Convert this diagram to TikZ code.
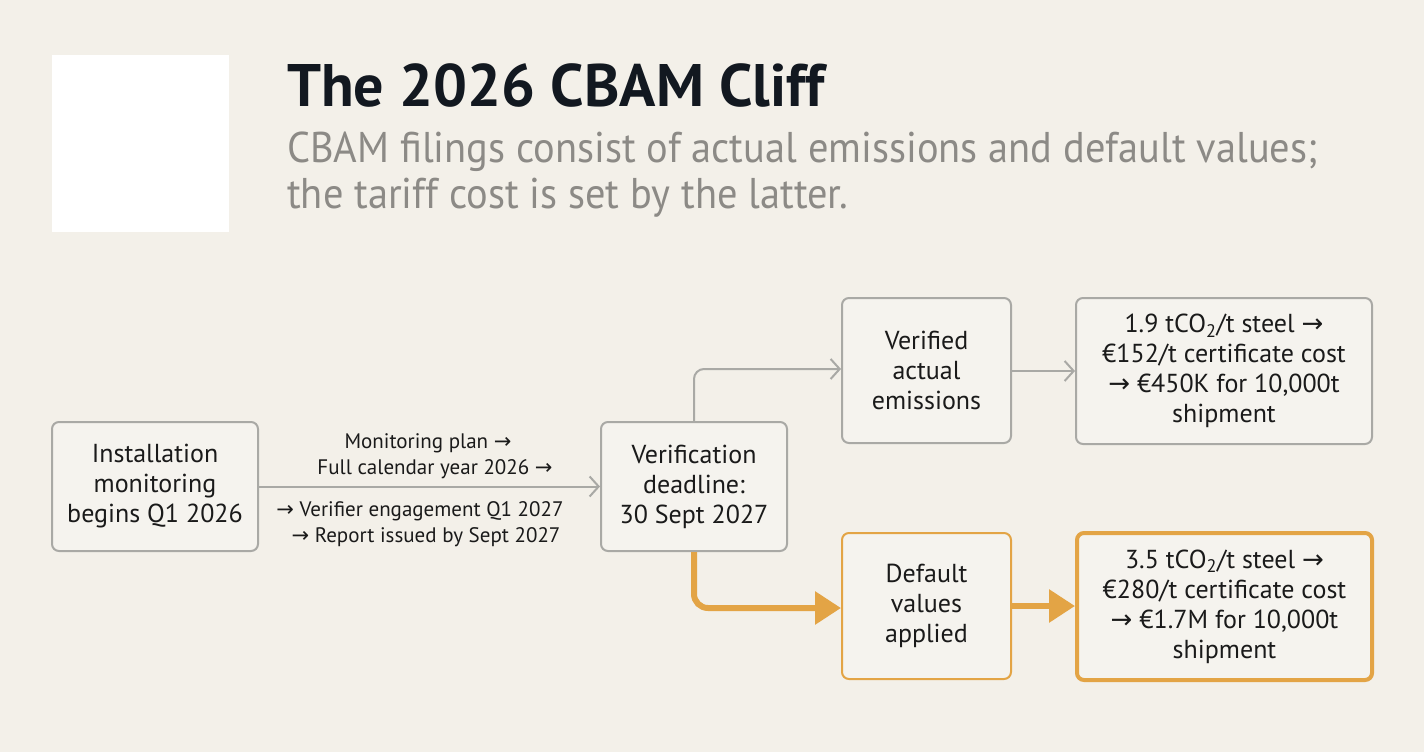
\documentclass[tikz,border=0pt]{standalone}
\usepackage{fontspec}
\setmainfont{PT Sans}
\newfontfamily\symf{DejaVu Sans}
\newfontfamily\subf[FakeStretch=0.94]{PT Sans}
\usetikzlibrary{arrows.meta}
\definecolor{bg}{HTML}{F3F0E9}
\definecolor{boxfill}{HTML}{F5F3EE}
\definecolor{graybd}{HTML}{A9A9A5}
\definecolor{titlec}{HTML}{121820}
\definecolor{subc}{HTML}{8C8A86}
\definecolor{orng}{HTML}{E3A445}
\definecolor{txt}{HTML}{1A1A1A}
\newcommand{\arr}{{\symf →}}
\tikzset{
  box/.style={draw=graybd, line width=2pt, rounded corners=7pt, fill=boxfill, align=center,
    text=txt, font=\fontsize{26}{30}\selectfont, inner sep=0pt},
  obox/.style={box, draw=orng},
  thickobox/.style={box, draw=orng, line width=4pt},
  garrow/.style={draw=graybd, line width=2pt, -{Straight Barb[length=9pt,width=20pt,line width=2pt]}, rounded corners=10pt},
  oarrow/.style={draw=orng, line width=6pt, -{Triangle[length=26pt,width=32pt]}, rounded corners=14pt},
  lbl/.style={anchor=base, text=txt, font=\fontsize{21}{24}\selectfont, inner sep=0pt},
}
\begin{document}
\begin{tikzpicture}[x=1pt,y=-1pt]
\fill[bg] (0,0) rectangle (1424,752);
\useasboundingbox (0,0) rectangle (1424,752);
\fill[white] (52,55) rectangle (229,232);
\node[anchor=base west, inner sep=0pt, text=titlec, font=\fontsize{60}{60}\selectfont\bfseries] (title) at (287,106) {The 2026 CBAM Cliff};
\node[anchor=base west, inner sep=0pt, text=subc, font=\subf\fontsize{43}{46}\selectfont] (sub1) at (287,162) {CBAM filings consist of actual emissions and default values;};
\node[anchor=base west, inner sep=0pt, text=subc, font=\subf\fontsize{43}{46}\selectfont] (sub2) at (287,208) {the tariff cost is set by the latter.};

\node[box, minimum width=206pt, minimum height=129pt] (inst) at (155,486.5) {Installation\\monitoring\\begins Q1 2026};
\node[box, minimum width=186pt, minimum height=129pt] (ver) at (694,486.5) {Verification\\deadline:\\30 Sept 2027};
\node[box, minimum width=169pt, minimum height=145pt] (act) at (926.5,370.5) {Verified\\actual\\emissions};
\node[box, minimum width=296pt, minimum height=146pt] (actc) at (1224,371) {1.9 tCO\textsubscript{2}/t steel \arr\\€152/t certificate cost\\\arr{} €450K for 10,000t\\shipment};
\node[obox, minimum width=169pt, minimum height=146pt] (def) at (926.5,606) {Default\\values\\applied};
\node[thickobox, minimum width=295pt, minimum height=147pt] (defc) at (1224.5,606.5) {3.5 tCO\textsubscript{2}/t steel \arr\\€280/t certificate cost\\\arr{} €1.7M for 10,000t\\shipment};

\draw[garrow] (inst.east) -- (ver.west);
\node[lbl] (l1) at (428,448) {Monitoring plan \arr};
\node[lbl] (l2) at (435,474) {Full calendar year 2026 \arr};
\node[lbl] (l3) at (420,516) {\arr{} Verifier engagement Q1 2027};
\node[lbl] (l4) at (426,542) {\arr{} Report issued by Sept 2027};

\draw[garrow] (ver.north) -- (694,369) -- (act.west |- 0,369);
\draw[garrow] (act.east |- 0,371) -- (actc.west |- 0,371);
\draw[oarrow] (ver.south) -- (694,608) -- (def.west |- 0,608);
\draw[oarrow] (def.east |- 0,606) -- (defc.west |- 0,606);
\end{tikzpicture}
\end{document}
